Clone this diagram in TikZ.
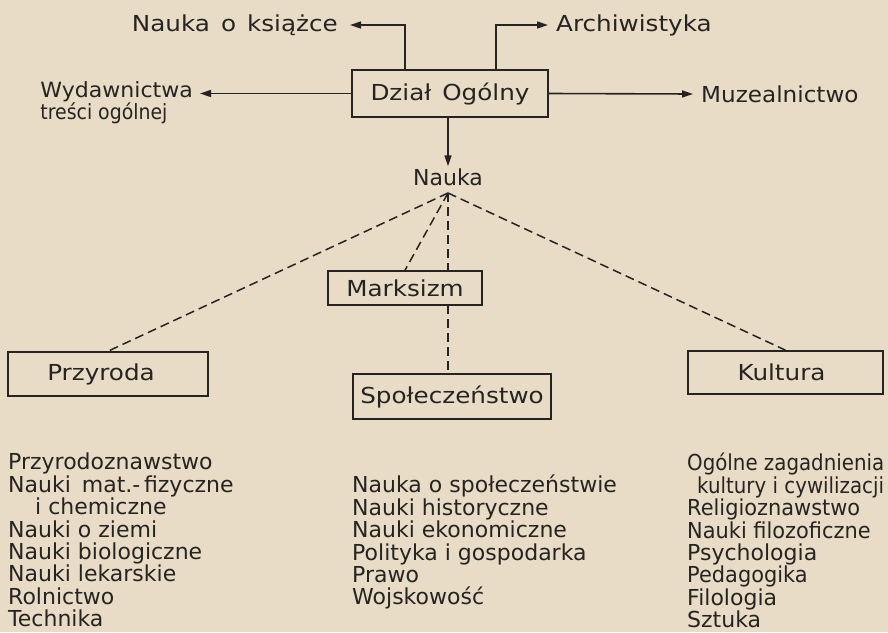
\documentclass[tikz,border=0pt]{standalone}
\usepackage{fontspec}
\setmainfont{DejaVu Sans}
\newfontfamily\widefont{DejaVu Sans}[FakeStretch=1.12]
\newfontfamily\midfont{DejaVu Sans}[FakeStretch=1.05]
\newfontfamily\narrowfont{DejaVu Sans}[FakeStretch=0.9]
\newfontfamily\slimfont{DejaVu Sans}[FakeStretch=0.95]
\usetikzlibrary{arrows.meta}
\definecolor{paper}{RGB}{233,220,198}
\definecolor{ink}{RGB}{38,36,34}
\begin{document}
\begin{tikzpicture}[x=1pt,y=-1pt,
  every node/.style={text=ink,font=\fontsize{22}{22.7}\selectfont},
  box/.style={draw=ink,line width=1.6pt,fill=paper,inner sep=0pt,font=\fontsize{22}{22.7}\selectfont\widefont},
  lbl/.style={inner ysep=2pt},
  arr/.style={draw=ink,line width=1.6pt,-{Triangle[length=11pt,width=7pt]}},
  dashline/.style={draw=ink,line width=1.5pt,dash pattern=on 9pt off 5pt},
  col/.style={inner sep=0pt,align=left,anchor=north west,font=\fontsize{22}{22.4}\selectfont}]
\fill[paper] (0,0) rectangle (888,632);
\useasboundingbox (0,0) rectangle (888,632);
% top box and labels
\node[box,minimum width=196pt,minimum height=47pt] (dzial) at (450,93.5) {Dział\enspace Ogólny};
\node[lbl,anchor=east,inner xsep=12pt,font=\fontsize{22}{22.7}\selectfont\widefont] (ksiazka) at (350,25) {Nauka\enspace o\enspace książce};
\node[lbl,anchor=west,inner xsep=8pt,font=\fontsize{22}{22.7}\selectfont\widefont] (arch) at (548,25) {Archiwistyka};
\node[anchor=east,align=left,inner xsep=7pt,inner ysep=0pt,font=\fontsize{21}{20.5}\selectfont] (wyd) at (200,103) {{\midfont Wydawnictwa}\\{\narrowfont treści ogólnej}};
\node[lbl,anchor=west,inner xsep=8pt,font=\fontsize{22}{22.7}\selectfont\midfont] (muz) at (693,94) {Muzealnictwo};
\node[lbl] (nauka) at (448,177) {Nauka};
\coordinate (apex) at (448,193);
\coordinate (kl) at (405,70);
\coordinate (ar) at (496,70);
% arrows
\draw[arr] (kl) |- (ksiazka.east);
\draw[arr] (ar) |- (arch.west);
\draw[arr] (dzial.west) -- (dzial.west -| wyd.east);
\draw[arr] (dzial.east) -- (muz.west);
\draw[arr] (dzial.south -| apex) -- (nauka.north);
% lower boxes
\node[box,minimum width=200pt,minimum height=44pt] (przy) at (108,374) {\hspace*{-14pt}Przyroda};
\node[box,minimum width=198pt,minimum height=45pt] (spol) at (452,396.5) {Społeczeństwo};
\node[box,minimum width=195pt,minimum height=43pt] (kult) at (785.5,372.5) {\hspace*{-8pt}Kultura};
% dashed lines
\draw[dashline] (apex) -- (przy.north);
\draw[dashline] (apex) -- (kult.north);
\draw[dashline] (apex) -- (spol.north -| apex);
\node[box,minimum width=154pt,minimum height=34pt] (marks) at (405,288) {Marksizm};
\draw[dashline] (apex) -- (marks.north);
% lists
\node[col] (lista) at (8,453) {Przyrodoznawstwo\\Nauki\enspace mat.-\,fizyczne\\\hspace*{27pt}i chemiczne\\Nauki o ziemi\\Nauki biologiczne\\Nauki lekarskie\\Rolnictwo\\Technika};
\node[col] (listb) at (352,475) {Nauka o społeczeństwie\\Nauki historyczne\\Nauki ekonomiczne\\Polityka i gospodarka\\Prawo\\Wojskowość};
\node[col] (listc) at (687,453) {{\narrowfont Ogólne zagadnienia}\\\hspace*{10pt}{\narrowfont kultury i cywilizacji}\\{\slimfont Religioznawstwo}\\{\slimfont Nauki filozoficzne}\\Psychologia\\{\slimfont Pedagogika}\\Filologia\\Sztuka};
\end{tikzpicture}
\end{document}
